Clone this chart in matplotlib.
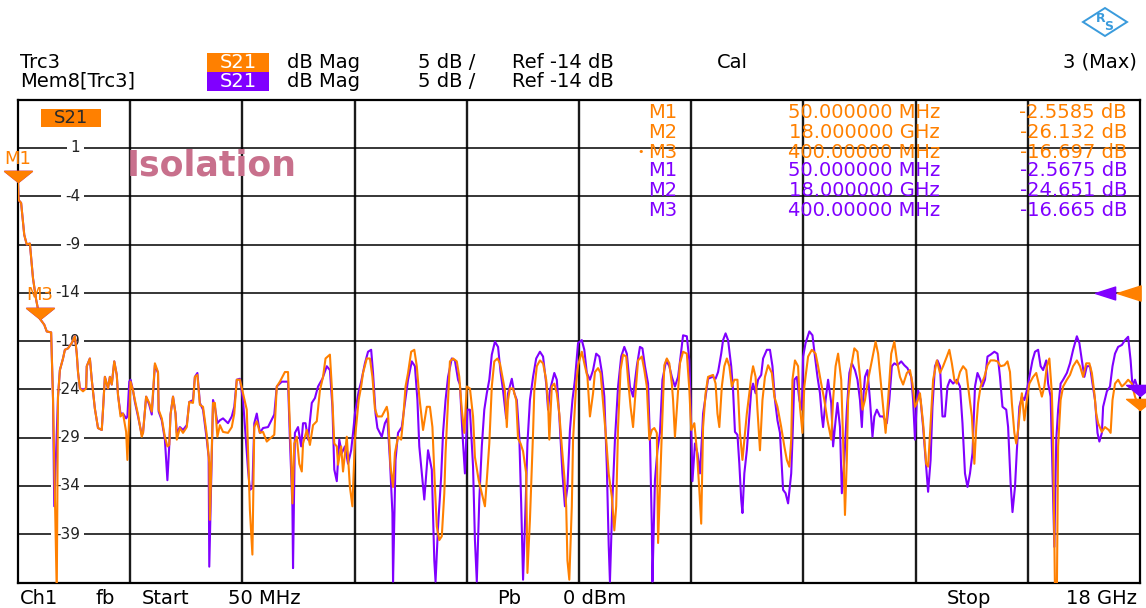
import matplotlib
matplotlib.use('Agg')
import matplotlib.pyplot as plt
from matplotlib.patches import Rectangle, Polygon
from matplotlib.transforms import blended_transform_factory

plt.rcParams['font.family'] = ['DejaVu Sans']

# sweep settings
f_start, f_stop = 0.05, 18.0      # GHz
ref_level = -14                   # dB
scale_db = 5                      # dB / div
y_labels = [1, -4, -9, -14, -19, -24, -29, -34, -39]

# Trc3 (orange), frequency in GHz and S21 in dB
trc_f = [0.05, 0.06, 0.10, 0.15, 0.19, 0.24, 0.29, 0.34, 0.40, 0.47, 0.51, 0.58, 0.61, 0.67, 0.69,
         0.72, 0.77, 0.80, 0.85, 0.91, 0.96, 0.99, 1.01, 1.04, 1.09, 1.14, 1.15, 1.20, 1.23, 1.28,
         1.33, 1.39, 1.41, 1.44, 1.49, 1.52, 1.55, 1.59, 1.63, 1.65, 1.69, 1.73, 1.78, 1.80, 1.83,
         1.85, 1.89, 1.92, 1.97, 2.03, 2.05, 2.10, 2.15, 2.19, 2.24, 2.29, 2.30, 2.35, 2.40, 2.44,
         2.47, 2.49, 2.53, 2.57, 2.59, 2.64, 2.69, 2.75, 2.79, 2.85, 2.88, 2.92, 2.96, 3.01, 3.07,
         3.11, 3.12, 3.17, 3.20, 3.24, 3.28, 3.33, 3.41, 3.47, 3.51, 3.55, 3.60, 3.65, 3.71, 3.76,
         3.80, 3.83, 3.87, 3.92, 3.97, 4.03, 4.08, 4.15, 4.19, 4.24, 4.32, 4.37, 4.39, 4.42, 4.44,
         4.47, 4.51, 4.55, 4.59, 4.61, 4.67, 4.72, 4.77, 4.83, 4.88, 4.93, 4.97, 5.04, 5.07, 5.11,
         5.15, 5.17, 5.22, 5.25, 5.31, 5.36, 5.40, 5.44, 5.50, 5.54, 5.57, 5.63, 5.68, 5.72, 5.76,
         5.80, 5.87, 5.95, 5.97, 6.01, 6.05, 6.08, 6.13, 6.18, 6.21, 6.25, 6.29, 6.34, 6.39, 6.43,
         6.47, 6.50, 6.53, 6.59, 6.64, 6.68, 6.72, 6.75, 6.79, 6.83, 6.87, 6.89, 6.93, 6.96, 7.01,
         7.07, 7.11, 7.15, 7.19, 7.23, 7.28, 7.33, 7.36, 7.42, 7.47, 7.52, 7.55, 7.59, 7.63, 7.67,
         7.72, 7.76, 7.80, 7.84, 7.87, 7.89, 7.92, 7.97, 8.02, 8.05, 8.09, 8.13, 8.18, 8.20, 8.24,
         8.29, 8.31, 8.35, 8.40, 8.45, 8.50, 8.53, 8.55, 8.59, 8.63, 8.67, 8.71, 8.75, 8.79, 8.82,
         8.84, 8.87, 8.91, 8.93, 8.98, 9.01, 9.07, 9.12, 9.16, 9.20, 9.25, 9.28, 9.33, 9.37, 9.41,
         9.46, 9.50, 9.55, 9.59, 9.62, 9.65, 9.69, 9.73, 9.78, 9.81, 9.85, 9.89, 9.92, 9.97, 10.03,
         10.07, 10.11, 10.15, 10.19, 10.23, 10.27, 10.29, 10.32, 10.35, 10.39, 10.43, 10.47, 10.51,
         10.53, 10.56, 10.60, 10.64, 10.69, 10.75, 10.79, 10.82, 10.87, 10.91, 10.95, 10.98, 11.01,
         11.05, 11.09, 11.17, 11.21, 11.24, 11.27, 11.31, 11.35, 11.39, 11.43, 11.47, 11.51, 11.56,
         11.60, 11.64, 11.67, 11.71, 11.75, 11.78, 11.81, 11.85, 11.88, 11.92, 11.96, 12.00, 12.05,
         12.11, 12.15, 12.20, 12.26, 12.31, 12.35, 12.39, 12.42, 12.44, 12.48, 12.53, 12.56, 12.60,
         12.63, 12.69, 12.75, 12.81, 12.85, 12.90, 12.95, 13.00, 13.06, 13.09, 13.13, 13.17, 13.22,
         13.25, 13.28, 13.31, 13.33, 13.38, 13.43, 13.48, 13.52, 13.56, 13.60, 13.65, 13.71, 13.77,
         13.81, 13.86, 13.89, 13.93, 13.97, 14.02, 14.07, 14.11, 14.16, 14.21, 14.27, 14.32, 14.36,
         14.40, 14.43, 14.48, 14.53, 14.58, 14.61, 14.65, 14.69, 14.75, 14.80, 14.85, 14.91, 14.95,
         14.99, 15.03, 15.07, 15.12, 15.17, 15.22, 15.25, 15.31, 15.35, 15.38, 15.41, 15.45, 15.51,
         15.56, 15.61, 15.67, 15.72, 15.77, 15.83, 15.88, 15.92, 15.95, 15.99, 16.02, 16.05, 16.08,
         16.11, 16.15, 16.19, 16.23, 16.29, 16.34, 16.39, 16.43, 16.47, 16.51, 16.55, 16.59, 16.61,
         16.64, 16.67, 16.69, 16.73, 16.77, 16.83, 16.88, 16.93, 16.99, 17.04, 17.09, 17.14, 17.19,
         17.23, 17.27, 17.30, 17.33, 17.39, 17.44, 17.50, 17.53, 17.56, 17.60, 17.65, 17.71, 17.76,
         17.81, 17.87, 17.92, 18.00]
trc_db = [-2.56, -4.4, -4.7, -8.0, -9.0, -8.9, -12.5, -14.7, -16.70, -17.3, -18.0, -18.1, -24.9, -45.0, -24.75,
          -22.0, -20.8, -19.9, -19.75, -19.2, -18.5, -20.3, -22.2, -23.9, -24.2, -23.9, -21.6, -20.8, -23.0, -26.0,
          -28.0, -28.2, -26.1, -22.7, -23.9, -22.7, -23.5, -21.1, -22.5, -24.6, -26.8, -26.5, -28.4, -31.3, -26.8,
          -23.2, -24.1, -25.1, -26.6, -28.9, -28.5, -24.75, -25.4, -26.3, -21.3, -22.2, -26.1, -27.0, -28.9, -29.9,
          -29.75, -26.6, -24.75, -26.5, -29.2, -28.0, -28.5, -27.9, -25.3, -25.4, -22.7, -22.5, -25.6, -25.8, -28.7,
          -31.6, -37.5, -25.4, -25.4, -28.9, -27.7, -28.4, -28.5, -27.9, -26.5, -23.0, -23.0, -24.4, -26.1, -36.5,
          -41.1, -27.9, -27.3, -28.5, -28.4, -29.4, -29.1, -28.7, -23.7, -23.2, -22.2, -22.2, -26.1, -31.0, -35.8,
          -29.6, -28.9, -31.7, -32.5, -29.6, -28.2, -29.75, -27.7, -27.3, -24.1, -22.7, -20.8, -20.4, -23.7, -29.6,
          -29.9, -31.8, -29.9, -32.5, -28.9, -34.1, -36.1, -29.2, -25.1, -23.7, -22.3, -20.8, -20.8, -22.7, -26.0,
          -26.8, -26.8, -25.8, -26.5, -32.0, -34.1, -30.6, -28.9, -29.2, -27.2, -23.7, -22.3, -20.1, -19.9, -21.6,
          -24.75, -26.5, -28.2, -25.8, -25.8, -27.9, -34.1, -38.2, -39.6, -39.2, -34.75, -30.6, -25.1, -21.1, -20.8,
          -21.1, -22.7, -26.1, -28.5, -23.7, -23.9, -26.8, -31.0, -33.4, -34.75, -36.1, -33.4, -29.6, -23.7, -21.1,
          -20.8, -21.3, -22.7, -24.1, -27.9, -25.1, -23.9, -23.9, -25.1, -29.1, -29.6, -30.4, -32.7, -43.0, -37.5,
          -28.5, -24.1, -21.6, -21.0, -21.3, -23.0, -25.4, -29.2, -23.7, -23.4, -24.4, -26.5, -29.9, -33.0, -36.1,
          -41.7, -43.7, -36.1, -29.2, -23.4, -21.5, -20.1, -21.6, -22.7, -26.8, -24.4, -22.2, -21.8, -22.3, -25.4,
          -29.2, -32.7, -35.1, -38.6, -36.1, -27.9, -22.0, -20.4, -20.6, -23.0, -25.8, -27.9, -25.1, -21.0, -20.6,
          -22.0, -23.7, -29.2, -28.2, -28.0, -28.5, -39.9, -34.1, -28.5, -21.5, -20.8, -21.3, -23.4,
          -25.1, -28.9, -25.1, -21.3, -20.1, -20.3, -24.0, -28.2, -27.5, -30.3, -34.4, -37.9, -27.9,
          -24.4, -22.7, -22.5, -23.4, -26.5, -27.9, -23.7, -21.6, -20.8, -21.6, -23.7, -23.0, -23.0,
          -28.5, -31.3, -29.2, -26.5, -24.4, -22.7, -21.6, -22.7, -26.1, -30.3, -25.1, -22.7, -21.5,
          -22.3, -24.75, -25.8, -27.9, -29.9, -31.3, -32.0, -29.2, -23.0, -21.0, -21.6, -25.8, -28.5,
          -23.7, -20.6, -19.9, -20.3, -21.6, -23.4, -25.1, -27.2, -29.2, -25.1, -21.6, -20.3, -23.0,
          -29.2, -37.0, -31.3, -25.1, -21.6, -19.75, -20.1, -22.7, -26.1, -25.1, -23.0, -21.0, -19.06,
          -20.3, -23.7, -25.8, -28.5, -25.1, -20.3, -19.06, -21.0, -22.7, -23.5, -22.3, -22.0, -23.4,
          -25.8, -25.4, -24.4, -27.5, -31.7, -32.0, -27.5, -23.0, -21.0, -22.3, -21.6, -20.6, -19.9,
          -21.3, -23.0, -23.4, -22.2, -21.6, -22.0, -23.7, -26.8, -31.7, -27.9, -25.4, -23.7, -22.7,
          -21.5, -21.0, -21.0, -21.1, -21.6, -21.5, -21.1, -22.2, -25.4, -28.5, -29.6, -28.2, -26.1,
          -24.4, -27.2, -25.1, -23.4, -22.7, -22.3, -23.7, -24.75, -23.7, -21.6, -20.8, -24.4, -29.2,
          -45.0, -45.0, -29.9, -25.1, -23.7, -23.0, -22.5, -21.6, -21.0, -21.6, -22.7, -21.3, -21.3,
          -22.3, -24.4, -26.5, -27.5, -28.4, -27.9, -28.2, -28.5, -25.1, -23.4, -23.0, -23.7, -23.4,
          -23.0, -23.4, -24.75, -26.13]

# Mem8[Trc3] (purple)
mem_f = [0.05, 0.06, 0.10, 0.15, 0.19, 0.24, 0.29, 0.34, 0.40, 0.47, 0.51, 0.58, 0.61, 0.63, 0.69,
         0.72, 0.77, 0.80, 0.85, 0.91, 0.96, 0.99, 1.01, 1.04, 1.09, 1.14, 1.15, 1.20, 1.23, 1.28,
         1.33, 1.39, 1.41, 1.44, 1.49, 1.52, 1.55, 1.59, 1.63, 1.65, 1.69, 1.73, 1.78, 1.80, 1.83,
         1.85, 1.89, 1.92, 1.97, 2.03, 2.05, 2.10, 2.15, 2.19, 2.24, 2.29, 2.30, 2.35, 2.40, 2.44,
         2.47, 2.49, 2.53, 2.57, 2.59, 2.64, 2.69, 2.75, 2.79, 2.85, 2.88, 2.92, 2.96, 3.01, 3.07,
         3.10, 3.11, 3.17, 3.20, 3.24, 3.28, 3.33, 3.41, 3.47, 3.51, 3.55, 3.60, 3.65, 3.73, 3.76,
         3.80, 3.83, 3.87, 3.92, 3.97, 4.05, 4.15, 4.19, 4.27, 4.37, 4.40, 4.44, 4.45, 4.48, 4.53,
         4.58, 4.61, 4.65, 4.69, 4.75, 4.80, 4.85, 4.92, 4.99, 5.04, 5.08, 5.11, 5.15, 5.19, 5.23,
         5.28, 5.33, 5.38, 5.41, 5.44, 5.50, 5.54, 5.60, 5.65, 5.70, 5.73, 5.77, 5.80, 5.87, 5.92,
         5.96, 6.00, 6.04, 6.05, 6.09, 6.13, 6.19, 6.24, 6.29, 6.35, 6.40, 6.44, 6.47, 6.51, 6.55,
         6.59, 6.61, 6.67, 6.71, 6.73, 6.77, 6.82, 6.85, 6.89, 6.93, 6.99, 7.04, 7.09, 7.12, 7.16,
         7.20, 7.24, 7.28, 7.33, 7.36, 7.39, 7.43, 7.47, 7.51, 7.55, 7.59, 7.63, 7.68, 7.73, 7.77,
         7.81, 7.86, 7.89, 7.95, 7.99, 8.03, 8.07, 8.10, 8.13, 8.17, 8.20, 8.24, 8.29, 8.34, 8.40,
         8.45, 8.50, 8.53, 8.56, 8.63, 8.67, 8.71, 8.76, 8.80, 8.84, 8.88, 8.92, 8.96, 9.01, 9.07,
         9.11, 9.15, 9.20, 9.25, 9.30, 9.35, 9.39, 9.43, 9.47, 9.50, 9.52, 9.56, 9.60, 9.65, 9.70,
         9.75, 9.79, 9.84, 9.89, 9.95, 10.00, 10.04, 10.08, 10.13, 10.16, 10.19, 10.20, 10.24, 10.28,
         10.32, 10.36, 10.42, 10.47, 10.51, 10.56, 10.61, 10.65, 10.69, 10.75, 10.79, 10.81, 10.84,
         10.88, 10.92, 10.96, 10.99, 11.01, 11.05, 11.09, 11.16, 11.21, 11.25, 11.30, 11.33, 11.37,
         11.41, 11.46, 11.49, 11.52, 11.56, 11.59, 11.62, 11.64, 11.67, 11.71, 11.75, 11.78, 11.81,
         11.85, 11.89, 11.94, 11.97, 12.03, 12.08, 12.12, 12.16, 12.20, 12.24, 12.27, 12.29, 12.33,
         12.37, 12.42, 12.44, 12.47, 12.51, 12.55, 12.59, 12.61, 12.65, 12.71, 12.76, 12.80, 12.84,
         12.88, 12.91, 12.93, 12.97, 13.01, 13.06, 13.09, 13.13, 13.16, 13.20, 13.23, 13.27, 13.31,
         13.35, 13.39, 13.44, 13.48, 13.52, 13.55, 13.57, 13.60, 13.64, 13.68, 13.72, 13.75, 13.79,
         13.84, 13.89, 13.95, 13.99, 14.03, 14.07, 14.12, 14.18, 14.23, 14.28, 14.34, 14.37, 14.40,
         14.43, 14.45, 14.49, 14.53, 14.58, 14.61, 14.65, 14.68, 14.72, 14.76, 14.80, 14.84, 14.88,
         14.92, 14.96, 15.01, 15.07, 15.12, 15.16, 15.20, 15.24, 15.28, 15.32, 15.36, 15.40, 15.44,
         15.48, 15.52, 15.56, 15.61, 15.67, 15.72, 15.76, 15.80, 15.86, 15.89, 15.93, 15.96, 16.00,
         16.03, 16.07, 16.11, 16.15, 16.19, 16.23, 16.28, 16.32, 16.37, 16.41, 16.45, 16.50, 16.53,
         16.57, 16.60, 16.63, 16.66, 16.69, 16.73, 16.77, 16.83, 16.88, 16.93, 16.99, 17.03, 17.07,
         17.11, 17.15, 17.20, 17.24, 17.28, 17.32, 17.35, 17.39, 17.41, 17.47, 17.52, 17.56, 17.60,
         17.65, 17.71, 17.76, 17.81, 17.85, 17.88, 17.92, 18.00]
mem_db = [-2.57, -4.4, -4.7, -8.0, -9.0, -8.9, -12.5, -14.7, -16.67, -17.3, -18.0, -18.1, -24.9, -36.1, -24.75,
          -22.0, -20.8, -19.9, -19.75, -19.2, -18.5, -20.3, -22.2, -23.9, -24.0, -23.9, -21.6, -20.8, -23.0, -26.0,
          -28.0, -28.2, -26.1, -22.7, -23.9, -22.7, -23.5, -21.1, -22.5, -24.6, -26.5, -26.5, -27.0, -26.8, -23.2,
          -23.0, -24.1, -25.3, -26.8, -28.7, -28.5, -24.75, -25.6, -26.6, -21.5, -22.3, -26.3, -27.2, -29.2, -33.4,
          -29.8, -26.6, -24.75, -26.5, -28.5, -27.9, -28.2, -27.7, -25.3, -25.1, -22.7, -22.3, -25.4, -26.1, -29.2,
          -31.0, -42.35, -25.1, -25.8, -27.5, -27.2, -27.0, -27.5, -26.8, -25.8, -23.0, -22.9, -25.1, -32.3, -34.4,
          -34.2, -27.5, -26.5, -28.5, -28.0, -27.9, -26.6, -23.7, -23.2, -23.2, -29.2, -36.1, -42.5, -28.5, -27.9,
          -29.9, -27.5, -27.5, -29.2, -25.4, -24.9, -23.7, -22.9, -21.6, -22.0, -25.8, -32.3, -33.5, -29.2, -30.6,
          -29.9, -31.7, -30.3, -28.5, -26.5, -24.2, -23.2, -21.3, -20.1, -19.9, -22.3, -26.5, -28.0, -28.9, -27.5,
          -27.0, -31.3, -36.8, -43.9, -31.3, -28.5, -27.9, -25.4, -23.0, -21.1, -21.6, -25.1, -29.9, -32.7, -35.4,
          -32.0, -30.3, -32.3, -41.7, -43.9, -38.2, -33.0, -28.5, -25.1, -22.7, -20.8, -21.0, -23.0, -23.5, -28.5,
          -32.7, -26.1, -26.1, -32.0, -39.6, -43.9, -35.4, -29.9, -26.1, -24.4, -23.0, -20.4, -19.06, -19.6, -22.2,
          -24.1, -27.0, -24.4, -22.9, -24.4, -25.1, -28.9, -35.8, -43.7, -36.1, -29.6, -25.1, -22.7, -20.8, -20.1,
          -20.6, -23.4, -26.1, -24.1, -22.3, -23.0, -26.8, -32.7, -36.1, -34.1, -28.2, -25.1, -23.0, -19.2, -18.9,
          -19.9, -22.3, -23.0, -22.0, -20.3, -20.6, -22.2, -24.75, -32.0, -40.1, -43.9, -35.4, -29.2, -23.7, -20.6,
          -19.6, -20.3, -23.7, -24.75, -21.6, -19.6, -19.75, -21.6, -23.4, -29.2, -38.2, -43.9, -33.4, -30.3,
          -28.5, -23.0, -21.0, -21.6, -22.7, -23.7, -22.7, -20.6, -18.4, -18.5, -21.0, -25.1, -33.5,
          -29.6, -30.6, -32.7, -29.2, -26.5, -24.75, -22.9, -22.7, -22.9, -22.2, -20.3, -18.9, -18.2,
          -18.9, -21.6, -24.1, -28.4, -28.7, -31.7, -35.4, -36.8, -32.7, -30.3, -26.8, -24.1, -23.4,
          -24.4, -23.0, -22.5, -20.8, -19.9, -19.9, -21.6, -25.1, -27.2, -28.5, -32.0, -34.4, -34.75,
          -35.8, -32.7, -29.2, -23.0, -22.7, -25.1, -26.1, -20.6, -19.2, -18.0, -18.4, -20.6, -22.7,
          -24.4, -26.8, -27.9, -25.1, -23.0, -25.4, -29.9, -27.2, -25.4, -27.9, -34.75, -31.3, -26.1,
          -22.3, -21.3, -22.0, -23.0, -25.1, -27.9, -25.1, -22.7, -22.0, -25.1, -28.9, -26.8, -26.1,
          -26.8, -26.8, -27.5, -25.1, -21.6, -21.3, -21.5, -21.1, -21.5, -21.8, -22.7, -25.1, -29.2,
          -25.1, -24.1, -25.1, -27.9, -32.0, -34.6, -31.3, -25.8, -21.6, -21.0, -21.6, -26.8, -26.8,
          -23.7, -23.0, -23.4, -23.0, -23.7, -27.5, -32.7, -34.1, -32.7, -30.6, -23.7, -22.3, -22.9,
          -23.7, -23.0, -20.6, -20.4, -20.1, -20.3, -22.7, -25.8, -26.1, -27.9, -33.7, -36.7, -34.1,
          -30.3, -25.8, -24.75, -25.1, -24.1, -22.7, -21.0, -20.1, -19.9, -21.6, -22.0, -21.0, -23.4,
          -24.75, -32.7, -40.3, -29.2, -26.1, -23.4, -23.0, -22.3, -21.3, -19.9, -18.5, -19.2, -21.0,
          -22.7, -21.6, -21.6, -23.4, -25.1, -28.5, -29.4, -28.5, -25.8, -24.2, -23.7, -21.6, -20.3,
          -19.6, -19.4, -18.9, -18.55, -21.0, -23.7, -23.0, -24.65]

# marker table
mk_names = ['M1', 'M2', 'M3']
mk_f = [0.05, 18.0, 0.4]
mk_trc = [-2.5585, -26.132, -16.697]
mk_mem = [-2.5675, -24.651, -16.665]

ORANGE = '#FF8000'
PURPLE = '#8000FF'
W, H = 1146, 608


def fx(x):
    return x / W


def fy(y):
    return 1 - y / H


def freq_str(f):
    if f < 1:
        v, unit = f * 1000, 'MHz'
    else:
        v, unit = f, 'GHz'
    digits = len(str(int(v)))
    return f"{v:.{8 - digits}f} {unit}"


fig = plt.figure(figsize=(W / 100, H / 100), dpi=100)
fig.patch.set_facecolor('white')

ax = fig.add_axes([fx(18), fy(582.6), (1140 - 18) / W, (582.6 - 99.6) / H])
ax.set_xlim(f_start, f_stop)
ax.set_ylim(ref_level - 6 * scale_db, ref_level + 4 * scale_db)
ax.set_xticks([])
ax.set_yticks([])
for s in ax.spines.values():
    s.set_linewidth(1.6)
    s.set_color('black')

div = (f_stop - f_start) / 10
for k in range(1, 10):
    ax.axvline(f_start + k * div, color='#1a1a1a', lw=1.7, zorder=1)
for v in y_labels:
    ax.axhline(v, color='black', lw=1.1, zorder=1)

# grid value labels inside the diagram
tr = blended_transform_factory(ax.transAxes, ax.transData)
for v in y_labels:
    ax.text((80 - 18) / 1122, v, f"{v}", transform=tr, ha='right', va='center',
            fontsize=11, color='#222222', zorder=2,
            bbox=dict(boxstyle='square,pad=0.25', fc='white', ec='none'))

# traces
ax.plot(mem_f, mem_db, color=PURPLE, lw=1.5, zorder=3)
ax.plot(trc_f, trc_db, color=ORANGE, lw=1.5, zorder=4)

# markers (tip of the triangle on the trace)
tri_down = [(0, 0), (-1, 0.8), (1, 0.8), (0, 0)]
for f, vm, vt in zip(mk_f, mk_mem, mk_trc):
    ax.plot([f], [vm], marker=tri_down, ms=20, color=PURPLE, ls='none', zorder=5, clip_on=False)
    ax.plot([f], [vt], marker=tri_down, ms=20, color=ORANGE, ls='none', zorder=6, clip_on=False)
for name, f, vt in zip(mk_names, mk_f, mk_trc):
    if f < f_stop:
        ax.annotate(name, (f, vt), xytext=(0, 17), textcoords='offset points', ha='center',
                    va='center', color=ORANGE, fontsize=13, zorder=7, annotation_clip=False)

# reference level arrows
tri_left = [(0, 0), (1, -0.32), (1, 0.32), (0, 0)]
ax.plot([(1095 - 18) / 1122], [ref_level], marker=tri_left, ms=29, color=PURPLE,
        transform=tr, clip_on=False, zorder=6)
ax.plot([(1117 - 18) / 1122], [ref_level], marker=tri_left, ms=34, color=ORANGE,
        transform=tr, clip_on=False, zorder=6)

# S21 label in the diagram
fig.add_artist(Rectangle((fx(41), fy(127)), 60 / W, 18 / H, transform=fig.transFigure,
                         fc=ORANGE, ec='none'))
fig.text(fx(71), fy(118), 'S21', ha='center', va='center', fontsize=13, color='#2a2a2a')

fig.text(fx(127), fy(166), 'Isolation', ha='left', va='center', fontsize=25,
         fontweight='bold', color='#C8708C')

# marker table
rows_y = [113, 132, 152, 171, 190, 210]
rows = [(n, f, v, ORANGE) for n, f, v in zip(mk_names, mk_f, mk_trc)] + \
       [(n, f, v, PURPLE) for n, f, v in zip(mk_names, mk_f, mk_mem)]
for y, (n, f, v, c) in zip(rows_y, rows):
    fig.text(fx(648), fy(y), n, ha='left', va='center', fontsize=14, color=c)
    fig.text(fx(940), fy(y), freq_str(f), ha='right', va='center', fontsize=14, color=c)
    fig.text(fx(1127), fy(y), f"{v:.5g} dB", ha='right', va='center', fontsize=14, color=c)
fig.text(fx(641), fy(152), '•', ha='center', va='center', fontsize=8, color=ORANGE)

# header
hdr = 14
fig.text(fx(20), fy(62), 'Trc3', ha='left', va='center', fontsize=hdr)
fig.text(fx(20), fy(81), 'Mem8[Trc3]', ha='left', va='center', fontsize=hdr)
for y, c in [(62, ORANGE), (81.5, PURPLE)]:
    fig.add_artist(Rectangle((fx(207), fy(y + 9.5)), 62 / W, 19 / H,
                             transform=fig.transFigure, fc=c, ec='none'))
    fig.text(fx(238), fy(y), 'S21', ha='center', va='center', fontsize=hdr, color='white')
    fig.text(fx(287), fy(y), 'dB Mag', ha='left', va='center', fontsize=hdr)
    fig.text(fx(418), fy(y), f'{scale_db} dB /', ha='left', va='center', fontsize=hdr)
    fig.text(fx(512), fy(y), f'Ref {ref_level} dB', ha='left', va='center', fontsize=hdr)
fig.text(fx(717), fy(62), 'Cal', ha='left', va='center', fontsize=hdr)
fig.text(fx(1137), fy(62), '3 (Max)', ha='right', va='center', fontsize=hdr)

# footer
for x, s in [(20, 'Ch1'), (95, 'fb'), (142, 'Start'), (228, '50 MHz'),
             (497, 'Pb'), (563, '0 dBm'), (947, 'Stop')]:
    fig.text(fx(x), fy(598), s, ha='left', va='center', fontsize=hdr)
fig.text(fx(1137), fy(598), '18 GHz', ha='right', va='center', fontsize=hdr)

# R&S logo
logo = [(1083, 22), (1105, 8), (1127, 22), (1105, 36)]
fig.add_artist(Polygon([(fx(x), fy(y)) for x, y in logo], closed=True, transform=fig.transFigure,
                       fc='white', ec='#3A9BDC', lw=1.4))
fig.text(fx(1101), fy(19), 'R', ha='center', va='center', fontsize=9, fontweight='bold', color='#3A9BDC')
fig.text(fx(1109), fy(26), 'S', ha='center', va='center', fontsize=9, fontweight='bold', color='#3A9BDC')

fig.savefig('out.png', dpi=100)
